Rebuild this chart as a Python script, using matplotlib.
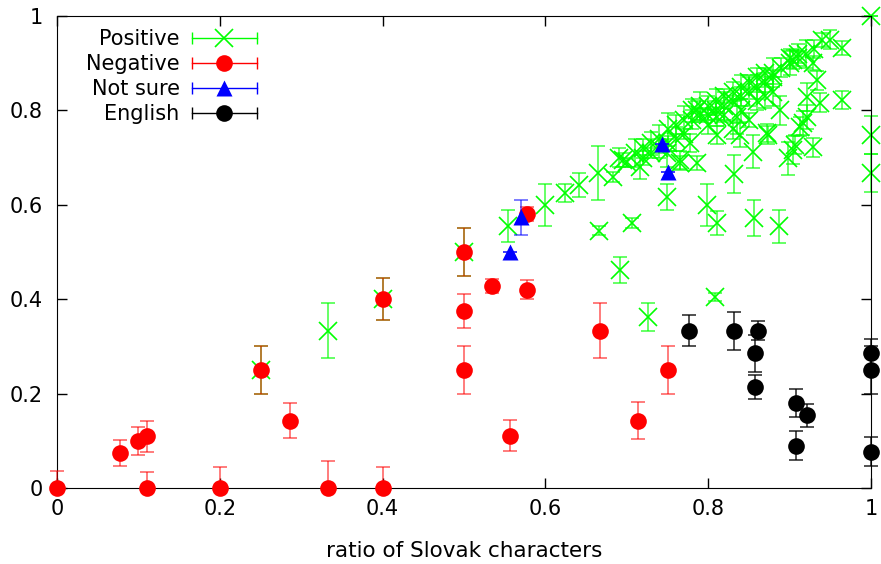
import numpy as np
import matplotlib.pyplot as plt
from matplotlib.lines import Line2D
from matplotlib.legend_handler import HandlerBase

# Positive (green crosses)
pos_x = [0.25, 0.333, 0.40, 0.50, 0.554, 0.60, 0.624, 0.641, 0.665, 0.683,
         0.666, 0.706, 0.692, 0.726, 0.749, 0.808, 0.799, 0.811, 0.856, 0.887,
         0.832, 1.0, 1.0, 1.0, 0.964, 0.964,
         0.69, 0.70, 0.71, 0.72, 0.72, 0.73, 0.73, 0.74, 0.74, 0.75, 0.75, 0.76,
         0.76, 0.77, 0.77, 0.78, 0.78, 0.79, 0.79, 0.80, 0.80, 0.81, 0.81, 0.82,
         0.82, 0.83, 0.83, 0.84, 0.84, 0.85, 0.85, 0.86, 0.86, 0.87, 0.87, 0.88,
         0.88, 0.89, 0.90, 0.90, 0.91, 0.91, 0.92, 0.93, 0.94, 0.95,
         0.811, 0.839, 0.855, 0.873, 0.898, 0.907, 0.929, 0.916, 0.937, 0.921,
         0.934, 0.888, 0.921, 0.786, 0.765, 0.749, 0.835, 0.811, 0.904, 0.872,
         0.913, 0.929, 0.904, 0.695, 0.716, 0.778, 0.765, 0.786,
         0.80, 0.82, 0.84, 0.86, 0.88, 0.83, 0.85, 0.87]
pos_y = [0.25, 0.333, 0.40, 0.50, 0.555, 0.60, 0.625, 0.642, 0.667, 0.659,
         0.545, 0.561, 0.462, 0.362, 0.617, 0.405, 0.60, 0.561, 0.572, 0.555,
         0.665, 1.0, 0.748, 0.667, 0.822, 0.932,
         0.70, 0.69, 0.71, 0.70, 0.72, 0.73, 0.71, 0.74, 0.72, 0.76, 0.73, 0.77,
         0.74, 0.78, 0.75, 0.78, 0.80, 0.79, 0.81, 0.81, 0.79, 0.82, 0.80, 0.83,
         0.81, 0.84, 0.82, 0.85, 0.83, 0.86, 0.84, 0.87, 0.85, 0.88, 0.86, 0.88,
         0.87, 0.89, 0.90, 0.91, 0.91, 0.92, 0.92, 0.93, 0.95, 0.95,
         0.748, 0.748, 0.712, 0.748, 0.699, 0.727, 0.722, 0.773, 0.816, 0.828,
         0.864, 0.80, 0.786, 0.689, 0.695, 0.71, 0.786, 0.786, 0.716, 0.752,
         0.765, 0.90, 0.907, 0.695, 0.68, 0.731, 0.689, 0.80,
         0.77, 0.79, 0.80, 0.82, 0.84, 0.76, 0.78, 0.83]
pos_err = [0.05, 0.058, 0.045, 0.05, 0.034, 0.045, 0.02, 0.025, 0.057, 0.01,
           0.01, 0.01, 0.027, 0.03, 0.028, 0.008, 0.045, 0.025, 0.038, 0.035,
           0.04, 0.0, 0.04, 0.04, 0.02, 0.015,
           0.02, 0.01, 0.03, 0.015, 0.02, 0.025, 0.01, 0.03, 0.02, 0.035, 0.015, 0.02,
           0.025, 0.03, 0.01, 0.02, 0.025, 0.015, 0.03, 0.02, 0.01, 0.025, 0.02, 0.015,
           0.03, 0.02, 0.01, 0.025, 0.02, 0.015, 0.03, 0.02, 0.025, 0.01, 0.02, 0.03,
           0.015, 0.02, 0.025, 0.02, 0.015, 0.02, 0.03, 0.02, 0.015, 0.02,
           0.02, 0.025, 0.035, 0.02, 0.035, 0.02, 0.02, 0.025, 0.02, 0.03,
           0.02, 0.03, 0.025, 0.015, 0.02, 0.03, 0.035, 0.02, 0.03, 0.02,
           0.02, 0.015, 0.02, 0.015, 0.025, 0.02, 0.015, 0.02,
           0.02, 0.015, 0.025, 0.02, 0.03, 0.02, 0.015, 0.025]

# Negative (red circles)
neg_x = [0.0, 0.077, 0.10, 0.11, 0.11, 0.20, 0.25, 0.286, 0.333, 0.40, 0.40,
         0.50, 0.50, 0.50, 0.534, 0.577, 0.556, 0.578, 0.667, 0.714, 0.75]
neg_y = [0.0, 0.074, 0.10, 0.11, 0.0, 0.0, 0.25, 0.143, 0.0, 0.40, 0.0,
         0.50, 0.375, 0.25, 0.428, 0.42, 0.111, 0.58, 0.333, 0.143, 0.25]
neg_lo = [0.0, 0.028, 0.03, 0.033, 0.0, 0.0, 0.05, 0.038, 0.0, 0.045, 0.0,
          0.05, 0.035, 0.05, 0.015, 0.02, 0.033, 0.015, 0.058, 0.04, 0.05]
neg_hi = [0.035, 0.028, 0.03, 0.033, 0.034, 0.045, 0.05, 0.038, 0.057, 0.045, 0.045,
          0.05, 0.035, 0.05, 0.015, 0.02, 0.033, 0.015, 0.058, 0.04, 0.05]

# Not sure (blue triangles)
ns_x = [0.556, 0.57, 0.743, 0.75]
ns_y = [0.50, 0.574, 0.729, 0.67]
ns_err = [0.0, 0.037, 0.0, 0.0]

# English (black circles)
en_x = [0.776, 0.832, 0.861, 0.857, 0.857, 0.908, 0.921, 0.908, 1.0, 1.0, 1.0]
en_y = [0.333, 0.333, 0.333, 0.285, 0.214, 0.18, 0.154, 0.09, 0.285, 0.25, 0.077]
en_err = [0.033, 0.04, 0.02, 0.04, 0.025, 0.03, 0.025, 0.03, 0.03, 0.05, 0.03]

ticks = [0, 0.2, 0.4, 0.6, 0.8, 1]
tick_labels = ['0', '0.2', '0.4', '0.6', '0.8', '1']

plt.rcParams['font.family'] = 'DejaVu Sans'
fig = plt.figure(figsize=(8.81, 5.64), dpi=100)
ax = fig.add_axes([57 / 881, 1 - 488 / 564, 814 / 881, 472 / 564])

ax.errorbar(pos_x, pos_y, yerr=pos_err, fmt='x', color='#00ff00', ms=13, mew=1.2,
            elinewidth=1.2, capsize=5, capthick=1.2, ecolor=(0, 1, 0, 0.7), clip_on=False, zorder=2)
ax.errorbar(neg_x, neg_y, yerr=[neg_lo, neg_hi], fmt='o', color='#ff0000', ms=12, mec='none',
            elinewidth=1.2, capsize=5, capthick=1.2, ecolor=(1, 0, 0, 0.6), clip_on=False, zorder=3)
ax.errorbar(ns_x, ns_y, yerr=ns_err, fmt='^', color='#0000ff', ms=11, mec='none',
            elinewidth=1.2, capsize=5, capthick=1.2, ecolor=(0, 0, 1, 0.6), clip_on=False, zorder=4)
ax.errorbar(en_x, en_y, yerr=en_err, fmt='o', color='black', ms=12, mec='none',
            elinewidth=1.2, capsize=5, capthick=1.2, ecolor=(0, 0, 0, 0.8), clip_on=False, zorder=5)

ax.set_xlim(0, 1)
ax.set_ylim(0, 1)
ax.set_xticks(ticks)
ax.set_xticklabels(tick_labels)
ax.set_yticks(ticks)
ax.set_yticklabels(tick_labels)
ax.tick_params(direction='in', length=7, width=1, top=True, right=True, labelsize=15)
ax.tick_params(axis='x', pad=8)
ax.tick_params(axis='y', pad=10)
ax.set_xlabel('ratio of Slovak characters', fontsize=15.5, labelpad=16)


class GnuHandler(HandlerBase):
    def create_artists(self, legend, orig_handle, xdescent, ydescent, width, height, fontsize, trans):
        c = orig_handle.get_color()
        y = height / 2 - ydescent
        x0, x1 = -xdescent, width - xdescent
        line = Line2D([x0, x1], [y, y], color=c, lw=1)
        caps = Line2D([x0, x1], [y, y], ls='none', marker='|', ms=9, mew=1, color=c)
        mk = Line2D([(x0 + x1) / 2], [y], ls='none', marker=orig_handle.get_marker(),
                    ms=orig_handle.get_markersize(), mew=orig_handle.get_markeredgewidth(),
                    color=c, mec=orig_handle.get_markeredgecolor())
        for a in (line, caps, mk):
            a.set_transform(trans)
        return [line, caps, mk]


handles = [Line2D([], [], marker='x', color='#00ff00', ms=13, mew=1.2),
           Line2D([], [], marker='o', color='#ff0000', ms=12, mec='none'),
           Line2D([], [], marker='^', color='#0000ff', ms=11, mec='none'),
           Line2D([], [], marker='o', color='black', ms=12, mec='none')]
labels = ['Positive', 'Negative', 'Not sure', 'English']
ax.legend(handles, labels, handler_map={Line2D: GnuHandler()}, loc='upper right',
          bbox_to_anchor=(0.258, 0.994), frameon=False, markerfirst=False, fontsize=15,
          handlelength=3.1, handletextpad=0.6, labelspacing=0.235, borderpad=0)

fig.savefig('out.png', dpi=100)
